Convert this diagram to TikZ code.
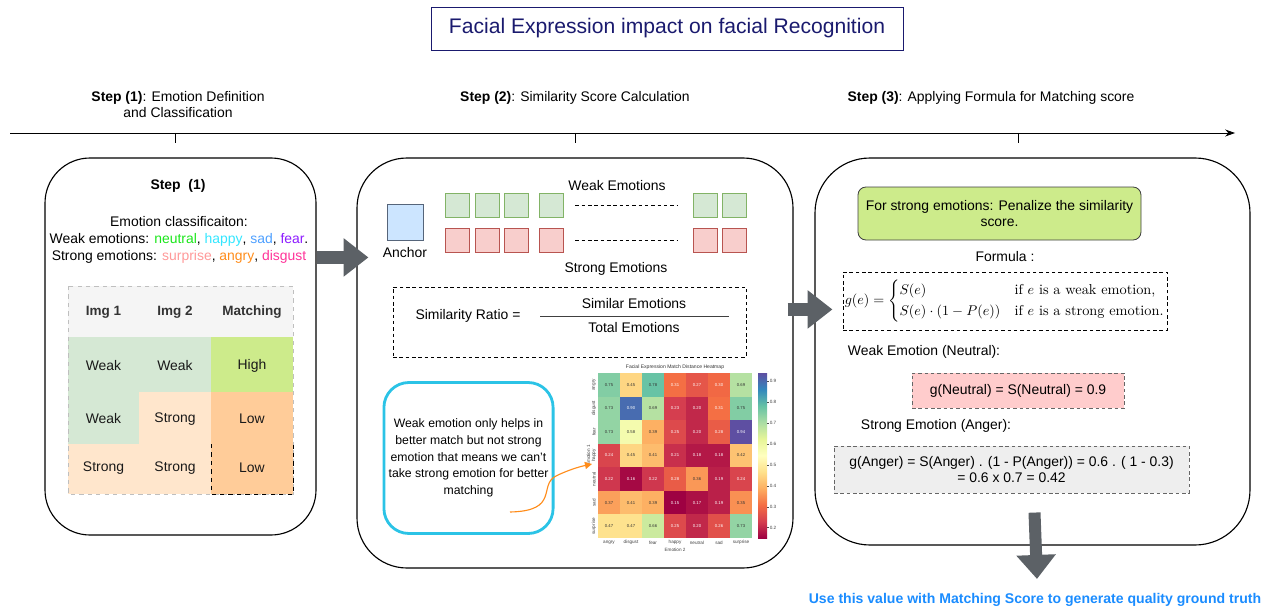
\documentclass[tikz,border=0pt]{standalone}
\usepackage{amsmath}
\usepackage{fontspec}
\setsansfont{Liberation Sans}
\renewcommand{\familydefault}{\sfdefault}
\usetikzlibrary{arrows.meta,positioning,calc}

% one unit of the picture
\newcommand{\pu}{0.025cm}

\definecolor{navy}{HTML}{1A1A6E}
\definecolor{arrowgray}{HTML}{5C6166}
\definecolor{weakgreen}{HTML}{D5E8D4}
\definecolor{weakline}{HTML}{82B366}
\definecolor{strongred}{HTML}{F8CECC}
\definecolor{strongline}{HTML}{B85450}
\definecolor{anchorblue}{HTML}{CCE5FF}
\definecolor{anchorline}{HTML}{56657A}
\definecolor{highgreen}{HTML}{CDEB8B}
\definecolor{peach}{HTML}{FFE6CC}
\definecolor{loworange}{HTML}{FFCC99}
\definecolor{headgray}{HTML}{F5F5F5}
\definecolor{cyanline}{HTML}{2BC3E6}
\definecolor{curveorange}{HTML}{FF8C1A}
\definecolor{pinkfill}{HTML}{FFCCCC}
\definecolor{grayfill}{HTML}{EEEEEE}
\definecolor{noteblue}{HTML}{1A8CFF}
% emotion words
\definecolor{cneutral}{HTML}{1AE61A}
\definecolor{chappy}{HTML}{33E6FF}
\definecolor{csad}{HTML}{4D9FFF}
\definecolor{cfear}{HTML}{8C1AFF}
\definecolor{csurprise}{HTML}{FF9999}
\definecolor{cangry}{HTML}{FF8C1A}
\definecolor{cdisgust}{HTML}{FF3399}
% spectral colour map
\definecolor{sp0}{RGB}{158,1,66}
\definecolor{sp1}{RGB}{213,62,79}
\definecolor{sp2}{RGB}{244,109,67}
\definecolor{sp3}{RGB}{253,174,97}
\definecolor{sp4}{RGB}{254,224,139}
\definecolor{sp5}{RGB}{255,255,191}
\definecolor{sp6}{RGB}{230,245,152}
\definecolor{sp7}{RGB}{171,221,164}
\definecolor{sp8}{RGB}{102,194,165}
\definecolor{sp9}{RGB}{50,136,189}
\definecolor{sp10}{RGB}{94,79,162}
\pgfdeclareverticalshading{spectralbar}{100bp}{color(0bp)=(sp0); color(25bp)=(sp0);
  color(30bp)=(sp1); color(35bp)=(sp2); color(40bp)=(sp3); color(45bp)=(sp4);
  color(50bp)=(sp5); color(55bp)=(sp6); color(60bp)=(sp7); color(65bp)=(sp8);
  color(70bp)=(sp9); color(75bp)=(sp10); color(100bp)=(sp10)}

\tikzset{
  stepbox/.style={draw, rounded corners=45*\pu, line width=0.8pt},
  blockarrow/.style={draw=arrowgray, line width=0.32cm, -{Triangle[width=0.92cm, length=0.62cm]}},
  emobox/.style={draw, line width=0.5pt, minimum width=24*\pu, minimum height=24*\pu, inner sep=0pt},
  dashbox/.style={draw, dashed, dash pattern=on 2.5pt off 2pt, line width=0.6pt},
  cellnum/.style={font=\fontsize{3}{3}\selectfont, inner sep=0pt},
  ticklab/.style={font=\fontsize{3.3}{3.3}\selectfont, inner sep=0pt, text=black!75},
  steplab/.style={font=\fontsize{9.9}{12}\selectfont},
}

\begin{document}
\begin{tikzpicture}[x=\pu, y=-\pu, font=\fontsize{9.9}{12}\selectfont]
\useasboundingbox (0,0) rectangle (1271,611);

% title
\node[draw=navy, line width=0.6pt, text=navy, font=\fontsize{15}{18}\selectfont,
      minimum width=472*\pu, minimum height=43*\pu] (title) at (667,28.5)
      {Facial Expression impact on facial Recognition};

% time line with the three steps
\coordinate (tlstart) at (10,133);
\coordinate (tlend) at (1235,133);
\draw[line width=0.6pt, -{Stealth[length=7pt, width=5pt]}] (tlstart) -- (tlend);
\foreach \x in {175,575,1018}
  \draw[line width=0.5pt] (\x,133) -- ++(0,10);
\node[steplab, align=center] (lab1) at (178,104.5)
  {\textbf{Step (1)}: Emotion Definition\\and Classification};
\node[steplab] (lab2) at (575,98) {\textbf{Step (2)}: Similarity Score Calculation};
\node[steplab] (lab3) at (991,98) {\textbf{Step (3)}: Applying Formula for Matching score};

% the three step boxes
\node[stepbox, minimum width=271*\pu, minimum height=377*\pu] (box1) at (180.5,346.5) {};
\node[stepbox, minimum width=436*\pu, minimum height=410*\pu, rounded corners=50*\pu] (box2) at (575,363) {};
\node[stepbox, minimum width=435*\pu, minimum height=387*\pu, rounded corners=55*\pu] (box3) at (1032.5,351.5) {};

%% step 1 -------------------------------------------------------------
\node[font=\bfseries\fontsize{9.9}{12}\selectfont] (s1head) at (178,186) {Step\ \ (1)};
\node[align=center] (classes) at (179,240)
  {Emotion classificaiton:\\
   Weak emotions: \textcolor{cneutral}{neutral}, \textcolor{chappy}{happy}, \textcolor{csad}{sad}, \textcolor{cfear}{fear}.\\
   Strong emotions: \textcolor{csurprise}{surprise}, \textcolor{cangry}{angry}, \textcolor{cdisgust}{disgust}};

% table of pairs
\fill[headgray] (68,286) rectangle (293,337);
\fill[weakgreen] (68,337) rectangle (211,392);
\fill[weakgreen] (68,392) rectangle (139,444);
\fill[peach] (139,392) rectangle (211,444);
\fill[peach] (68,444) rectangle (211,494);
\fill[highgreen] (211,337) rectangle (293,392);
\fill[loworange] (211,392) rectangle (293,494);
\draw[black!25, dashed, line width=0.5pt] (68,286) rectangle (293,494);
\draw[dashed, line width=0.6pt] (211,444) -- (211,494) -- (293,494) -- (293,444);
\foreach \x/\y/\txt in {103.5/312/Img 1, 175/312/Img 2, 252/312/Matching}
  \node[font=\bfseries\fontsize{9.6}{12}\selectfont, text=black!80] at (\x,\y) {\txt};
\foreach \x/\y/\txt in {103.5/366/Weak, 175/366/Weak, 252/366/High,
                        103.5/419/Weak, 175/419/Strong, 252/419/Low,
                        103.5/468/Strong, 175/468/Strong, 252/468/Low}
  \node[text=black!90] at (\x,\y) {\txt};

%% step 2 -------------------------------------------------------------
\node[emobox, draw=anchorline, fill=anchorblue, minimum width=36*\pu, minimum height=36*\pu] (anchor) at (405,222) {};
\node[below=2*\pu of anchor] (anchorlab) {Anchor};
\foreach \x [count=\i] in {457,487,516,551,705,734} {
  \node[emobox, draw=weakline, fill=weakgreen] (w\i) at (\x,205) {};
  \node[emobox, draw=strongline, fill=strongred] (s\i) at (\x,240) {};
}
\draw[dashed, dash pattern=on 2.5pt off 2pt, shorten <=12*\pu, shorten >=15*\pu] (w4) -- (w5);
\draw[dashed, dash pattern=on 2.5pt off 2pt, shorten <=12*\pu, shorten >=15*\pu] (s4) -- (s5);
\node (weaklab) at (617,186) {Weak Emotions};
\node (stronglab) at (616,269) {Strong Emotions};

% similarity ratio
\node[dashbox, minimum width=353*\pu, minimum height=70*\pu] (ratio) at (569.5,322) {};
\node (ratiolab) at (468,316) {Similarity Ratio =};
\node (num) at (634,304) {Similar Emotions};
\node (den) at (634,328) {Total Emotions};
\draw[line width=0.6pt, black!75] (540,316.5) -- (729,316.5);

% note about weak emotions
\node[draw=cyanline, line width=2pt, rounded corners=25*\pu, minimum width=165*\pu, minimum height=151*\pu,
      align=center, font=\fontsize{8.7}{11.8}\selectfont] (note) at (468.5,458)
  {Weak emotion only helps in\\better match but not strong\\emotion that means we can't\\take strong emotion for better\\matching};

% heat map of match distances
\node[font=\fontsize{3.6}{4}\selectfont, text=black!80] (hmtitle) at (675,367.5) {Facial Expression Match Distance Heatmap};
\foreach \vals [count=\r] in {{0.75,0.45,0.78,0.31,0.27,0.30,0.69},
                              {0.73,0.90,0.69,0.23,0.20,0.31,0.75},
                              {0.73,0.58,0.39,0.25,0.20,0.28,0.94},
                              {0.24,0.45,0.41,0.21,0.18,0.18,0.42},
                              {0.22,0.16,0.22,0.28,0.36,0.19,0.24},
                              {0.37,0.41,0.39,0.15,0.17,0.19,0.35},
                              {0.47,0.47,0.66,0.25,0.20,0.26,0.73}} {
  \foreach \v [count=\c] in \vals {
    \pgfmathsetmacro\t{max(0,min(1,(\v-0.15)/0.79))*10}
    \pgfmathtruncatemacro\k{min(floor(\t),9)}
    \pgfmathtruncatemacro\kk{\k+1}
    \pgfmathsetmacro\p{100-(\t-\k)*100}
    \colorlet{cellcol}{sp\k!\p!sp\kk}
    \pgfmathtruncatemacro\dark{(\t<2.5)||(\t>8.5)}
    \ifnum\dark=1 \def\numcol{white}\else\def\numcol{black!80}\fi
    \fill[cellcol] ({598+(\c-1)*22},{373+(\r-1)*23.57}) rectangle ++(22,23.57);
    \node[cellnum, text=\numcol] at ({598+(\c-0.5)*22},{373+(\r-0.5)*23.57}) {\v};
  }
}
\foreach \lab [count=\i] in {angry,disgust,fear,happy,neutral,sad,surprise} {
  \node[ticklab, rotate=90] at (594,{373+(\i-0.5)*23.57}) {\lab};
  \node[ticklab] at ({598+(\i-0.5)*22},542.5) {\lab};
}
\node[ticklab] (hmx) at (675,549.5) {Emotion 2};
\node[ticklab, rotate=90] (hmy) at (588.5,455.5) {Emotion 1};
\shade[shading=spectralbar] (758,373) rectangle (767,538);
\foreach \v in {0.2,0.3,0.4,0.5,0.6,0.7,0.8,0.9} {
  \draw[line width=0.2pt, black!70] (767,{538-(\v-0.15)/0.79*165}) -- ++(2,0);
  \node[ticklab, anchor=west] at (769.5,{538-(\v-0.15)/0.79*165}) {\v};
}

% pointer from the note to the heat map
\coordinate (curvestart) at (510,512);
\coordinate (hmpoint) at (592,464);
\draw[curveorange, line width=0.8pt, -{Triangle[width=5pt, length=5pt]}]
  (curvestart) .. controls (560,511) and (538,485) .. (556,476)
               .. controls (566,471) and (578,467) .. (hmpoint);

%% step 3 -------------------------------------------------------------
\node[draw=black!75, fill=highgreen, line width=0.6pt, rounded corners=8*\pu, minimum width=283*\pu,
      minimum height=53*\pu, align=center] (penalty) at (999.5,213.5)
  {For strong emotions: Penalize the similarity\\score.};
\node (formlab) at (1005,257) {Formula :};
\node[dashbox, minimum width=324*\pu, minimum height=58*\pu, inner sep=1pt] (formula) at (1005,301)
  {\fontsize{10.2}{12}\selectfont
   $g(e)=\begin{cases} S(e) & \textrm{if $e$ is a weak emotion,}\\
                       S(e)\cdot(1-P(e)) & \textrm{if $e$ is a strong emotion.}\end{cases}$};
\node[anchor=west] (weakhead) at (843,352) {Weak Emotion (Neutral):};
\node[dashbox, draw=black!60, fill=pinkfill, minimum width=212*\pu, minimum height=35*\pu] (neutral) at (1018,390.5)
  {g(Neutral) = S(Neutral) = 0.9};
\node[anchor=west] (stronghead) at (856,426) {Strong Emotion (Anger):};
\node[dashbox, draw=black!60, fill=grayfill, minimum width=355*\pu, minimum height=47*\pu, align=center] (anger) at (1011.5,469.5)
  {g(Anger) = S(Anger) . (1 - P(Anger)) = 0.6 . ( 1 - 0.3)\\= 0.6 x 0.7 = 0.42};

% result
\node[text=noteblue, font=\bfseries\fontsize{10}{12}\selectfont] (result) at (1035,599.5)
  {Use this value with Matching Score to generate quality ground truth};

% block arrows between the steps
\draw[blockarrow, shorten >=-12*\pu] ([yshift=-100*\pu]box1.north east) -- ([yshift=-100*\pu]box2.north west);
\draw[blockarrow, shorten <=-6*\pu, shorten >=-18*\pu] ([yshift=-152*\pu]box2.north east) -- ([yshift=-152*\pu]box3.north west);
\draw[blockarrow, line width=0.3cm, -{Triangle[width=0.95cm, length=0.6cm]}] ([xshift=2*\pu, yshift=33*\pu]box3.south) -- ([xshift=2*\pu, yshift=9*\pu]result.north);
\end{tikzpicture}
\end{document}
